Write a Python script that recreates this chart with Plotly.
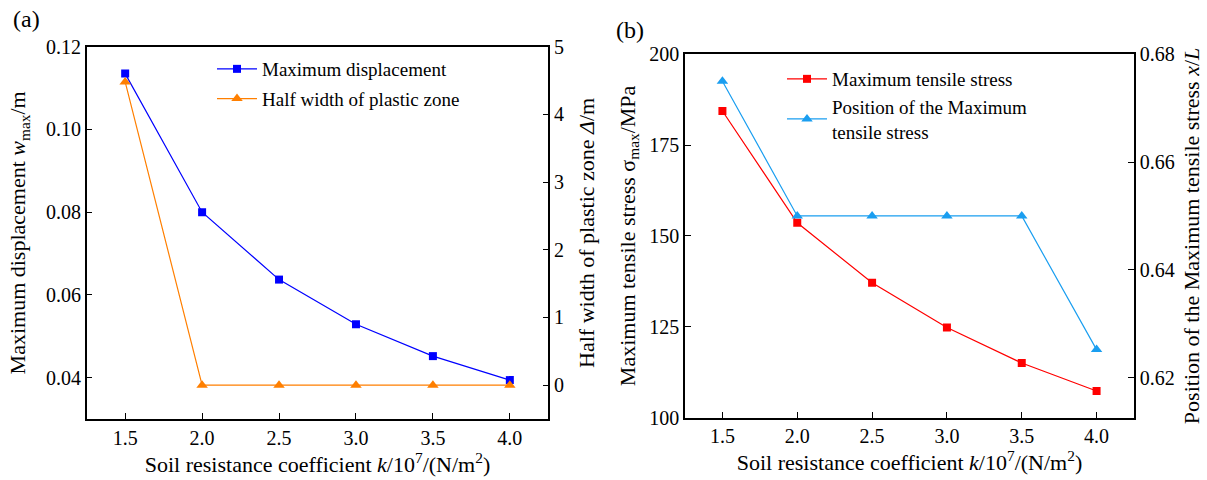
import plotly.graph_objects as go

W, H = 1207, 480

# ---------------- data ----------------
k_vals = [1.5, 2.0, 2.5, 3.0, 3.5, 4.0]
max_disp = [0.1135, 0.0800, 0.0637, 0.0529, 0.0452, 0.0394]
half_width = [4.48, 0.0, 0.0, 0.0, 0.0, 0.0]
max_stress = [184.4, 153.6, 137.1, 124.8, 115.0, 107.3]
stress_pos = [0.675, 0.650, 0.650, 0.650, 0.650, 0.6252]

x_ticks = [1.5, 2.0, 2.5, 3.0, 3.5, 4.0]
x_ticklabels = ["1.5", "2.0", "2.5", "3.0", "3.5", "4.0"]
ya_ticks = [0.04, 0.06, 0.08, 0.10, 0.12]
ya_ticklabels = ["0.04", "0.06", "0.08", "0.10", "0.12"]
ya2_ticks = [0, 1, 2, 3, 4, 5]
yb_ticks = [100, 125, 150, 175, 200]
yb2_ticks = [0.62, 0.64, 0.66, 0.68]
yb2_ticklabels = ["0.62", "0.64", "0.66", "0.68"]

FONT = "Liberation Serif, Times New Roman, serif"
TICKF = dict(family=FONT, size=20, color="black")
TITLEF = dict(family=FONT, size=22, color="black")
LEGF = dict(family=FONT, size=19, color="black")

def px_x(p):
    return p / W

def px_y(p):
    return 1 - p / H

fig = go.Figure()

fig.add_trace(go.Scatter(x=k_vals, y=max_disp, mode="lines+markers", name="Maximum displacement",
                         line=dict(color="#0000FF", width=1.2),
                         marker=dict(symbol="square", size=8, color="#0000FF"),
                         xaxis="x", yaxis="y", legend="legend", legendgroup="a1"))
fig.add_trace(go.Scatter(x=k_vals, y=half_width, mode="lines+markers", name="Half width of plastic zone",
                         line=dict(color="#FF7F00", width=1.2),
                         marker=dict(symbol="triangle-up", size=10, color="#FF7F00"),
                         xaxis="x", yaxis="y2", legend="legend", legendgroup="a2"))
fig.add_trace(go.Scatter(x=k_vals, y=max_stress, mode="lines+markers", name="Maximum tensile stress",
                         line=dict(color="#FF0000", width=1.2),
                         marker=dict(symbol="square", size=8, color="#FF0000"),
                         xaxis="x2", yaxis="y3", legend="legend2", legendgroup="b1"))
fig.add_trace(go.Scatter(x=k_vals, y=stress_pos, mode="lines+markers",
                         name="Position of the Maximum<br>tensile stress",
                         line=dict(color="#1A9EF0", width=1.2),
                         marker=dict(symbol="triangle-up", size=10, color="#1A9EF0"),
                         xaxis="x2", yaxis="y4", legend="legend2", legendgroup="b2"))

axis_common = dict(showline=True, linecolor="black", linewidth=1.5, ticks="inside", ticklen=6,
                   tickcolor="black", tickwidth=1.2, showgrid=False, zeroline=False,
                   tickfont=TICKF, automargin=False)

dom_ax = [px_x(86.7), px_x(548.3)]
dom_ay = [px_y(419), px_y(46.7)]
dom_bx = [px_x(685), px_x(1134)]
dom_by = [px_y(417.5), px_y(54.3)]

x_title = "Soil resistance coefficient <i>k</i>/10<sup>7</sup>/(N/m<sup>2</sup>)"

fig.update_layout(
    width=W, height=H,
    margin=dict(l=0, r=0, t=0, b=0),
    paper_bgcolor="white", plot_bgcolor="white",
    showlegend=True,
    xaxis=dict(domain=dom_ax, range=[1.25, 4.25], tickvals=x_ticks, ticktext=x_ticklabels,
               mirror=True, anchor="y",
               title=dict(text=x_title, font=TITLEF, standoff=4), **axis_common),
    yaxis=dict(domain=dom_ay, range=[0.03, 0.12], tickvals=ya_ticks, ticktext=ya_ticklabels,
               anchor="x", side="left",
               title=dict(text="Maximum displacement <i>w</i><sub>max</sub>/m", font=TITLEF, standoff=14),
               **axis_common),
    yaxis2=dict(domain=dom_ay, range=[-0.5, 5], tickvals=ya2_ticks, overlaying="y", anchor="x", side="right",
                title=dict(text="Half width of plastic zone <i>Δ</i>/m", font=TITLEF, standoff=16),
                **axis_common),
    xaxis2=dict(domain=dom_bx, range=[1.25, 4.25], tickvals=x_ticks, ticktext=x_ticklabels,
                mirror=True, anchor="y3",
                title=dict(text=x_title, font=TITLEF, standoff=4), **axis_common),
    yaxis3=dict(domain=dom_by, range=[100, 200], tickvals=yb_ticks, anchor="x2", side="left",
                title=dict(text="Maximum tensile stress σ<sub>max</sub>/MPa", font=TITLEF, standoff=8),
                **axis_common),
    yaxis4=dict(domain=dom_by, range=[0.6126, 0.68], tickvals=yb2_ticks, ticktext=yb2_ticklabels,
                overlaying="y3", anchor="x2", side="right",
                title=dict(text="Position of the Maximum tensile stress <i>x</i>/<i>L</i>", font=TITLEF, standoff=10),
                **axis_common),
    legend=dict(x=px_x(212), y=px_y(50), xanchor="left", yanchor="top",
                font=LEGF, bgcolor="rgba(0,0,0,0)", tracegroupgap=2, itemwidth=40),
    legend2=dict(x=px_x(782), y=px_y(60), xanchor="left", yanchor="top",
                 font=LEGF, bgcolor="rgba(0,0,0,0)", tracegroupgap=0, itemwidth=40),
    annotations=[
        dict(text="(a)", x=px_x(11), y=px_y(19), xref="paper", yref="paper", xanchor="left",
             yanchor="middle", showarrow=False, font=dict(family=FONT, size=24, color="black")),
        dict(text="(b)", x=px_x(614), y=px_y(30), xref="paper", yref="paper", xanchor="left",
             yanchor="middle", showarrow=False, font=dict(family=FONT, size=24, color="black")),
    ],
)

fig.write_html("out.html")
